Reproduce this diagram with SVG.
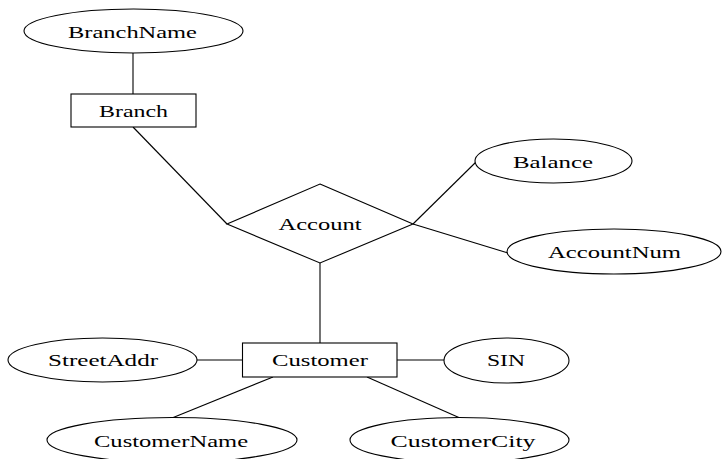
<svg xmlns="http://www.w3.org/2000/svg" width="722" height="459" viewBox="0 0 722 459">
<style>
.s{fill:#fff;stroke:#000;stroke-width:1.1}
.c line{stroke:#000;stroke-width:1.1}
text{font-family:"Liberation Serif","Times New Roman",serif;font-size:17px;fill:#000;text-anchor:middle}
</style>
<rect width="722" height="459" fill="#fff"/>
<g class="c" id="connectors">
<line x1="133" y1="53" x2="133" y2="94"/>
<line x1="133" y1="127" x2="227" y2="224"/>
<line x1="413" y1="224" x2="476" y2="162"/>
<line x1="413" y1="224" x2="508" y2="253"/>
<line x1="320" y1="263" x2="320" y2="343"/>
<line x1="197" y1="360" x2="243" y2="360"/>
<line x1="397" y1="360" x2="444" y2="360"/>
<line x1="273" y1="377" x2="172" y2="418"/>
<line x1="367" y1="377" x2="460" y2="418"/>
</g>
<g id="BranchName"><ellipse class="s" cx="133.5" cy="31" rx="109.5" ry="22"/><text transform="translate(132.5,37.5) scale(1.42,1)" textLength="90.8" lengthAdjust="spacingAndGlyphs">BranchName</text></g>
<g id="Branch"><rect class="s" x="71" y="94" width="125" height="33"/><text transform="translate(133.5,117) scale(1.42,1)" textLength="48.6" lengthAdjust="spacingAndGlyphs">Branch</text></g>
<g id="Account"><polygon class="s" points="320,184 413,224 320,263 227,224"/><text transform="translate(320,230) scale(1.42,1)" textLength="58.5" lengthAdjust="spacingAndGlyphs">Account</text></g>
<g id="Balance"><ellipse class="s" cx="553.5" cy="161" rx="78.5" ry="22"/><text transform="translate(553,168) scale(1.42,1)" textLength="56.3" lengthAdjust="spacingAndGlyphs">Balance</text></g>
<g id="AccountNum"><ellipse class="s" cx="614" cy="251.5" rx="107" ry="22.5"/><text transform="translate(614.5,258) scale(1.42,1)" textLength="93.7" lengthAdjust="spacingAndGlyphs">AccountNum</text></g>
<g id="Customer"><rect class="s" x="242.5" y="343" width="154.5" height="34"/><text transform="translate(320,366) scale(1.42,1)" textLength="67.6" lengthAdjust="spacingAndGlyphs">Customer</text></g>
<g id="StreetAddr"><ellipse class="s" cx="102.5" cy="360" rx="94.5" ry="22"/><text transform="translate(103,366) scale(1.42,1)" textLength="77.5" lengthAdjust="spacingAndGlyphs">StreetAddr</text></g>
<g id="SIN"><ellipse class="s" cx="506.5" cy="360.5" rx="62.5" ry="22.5"/><text transform="translate(506,366) scale(1.42,1)" textLength="26.8" lengthAdjust="spacingAndGlyphs">SIN</text></g>
<g id="CustomerName"><ellipse class="s" cx="172" cy="440" rx="125" ry="22.5"/><text transform="translate(171,447) scale(1.42,1)" textLength="108.5" lengthAdjust="spacingAndGlyphs">CustomerName</text></g>
<g id="CustomerCity"><ellipse class="s" cx="459.5" cy="440" rx="109.5" ry="22.5"/><text transform="translate(463,447) scale(1.42,1)" textLength="102.1" lengthAdjust="spacingAndGlyphs">CustomerCity</text></g>
</svg>
